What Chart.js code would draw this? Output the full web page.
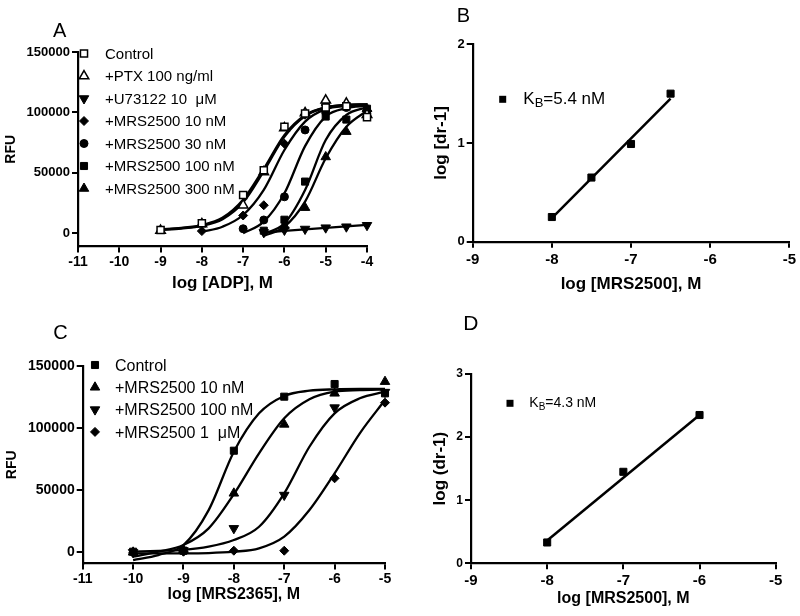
<!DOCTYPE html>
<html><head><meta charset="utf-8">
<script src="https://cdn.jsdelivr.net/npm/chart.js@4"></script>
<style>
body{margin:0;background:#fff;width:800px;height:616px;overflow:hidden;position:relative}
canvas{position:absolute;left:0;top:0}
</style></head><body>
<canvas id="cA" width="800" height="616"></canvas>
<canvas id="cB" width="800" height="616"></canvas>
<canvas id="cC" width="800" height="616"></canvas>
<canvas id="cD" width="800" height="616"></canvas>
<script>
const FONT = "'Liberation Sans', Arial, Helvetica, sans-serif";

// ================= Panel A data =================
const aTickX = [-11,-10,-9,-8,-7,-6,-5,-4];
const aTickXLabels = ['-11','-10','-9','-8','-7','-6','-5','-4'];
const aTickY = [0,50000,100000,150000];
const aTickYLabels = ['0','50000','100000','150000'];
const aNames = ['Control','+PTX 100 ng/ml','+U73122 10  \u03bcM','+MRS2500 10 nM','+MRS2500 30 nM','+MRS2500 100 nM','+MRS2500 300 nM'];

const aCtrlX = [-9,-8,-7,-6.5,-6,-5.5,-5,-4.5,-4];
const aCtrlY = [2500,8000,31500,52000,88000,99000,104000,105000,96000];
const aPtxX  = [-9,-8,-7,-6.5,-6,-5.5,-5,-4.5,-4];
const aPtxY  = [2000,7500,23000,50500,87000,99500,110000,107500,98000];
const aU7X   = [-6.5,-6,-5.5,-5,-4.5,-4];
const aU7Y   = [500,2500,3300,4400,5200,6400];
const a10X   = [-8,-7,-6.5,-6,-5.5,-5,-4.5,-4];
const a10Y   = [1600,14500,23000,74000,98000,106000,106500,101000];
const a30X   = [-7,-6.5,-6,-5.5,-5,-4.5,-4];
const a30Y   = [3500,10800,30000,85400,100000,104000,101000];
const a100X  = [-6.5,-6,-5.5,-5,-4.5,-4];
const a100Y  = [1900,11000,42600,96500,94000,103000];
const a300X  = [-6,-5.5,-5,-4.5,-4];
const a300Y  = [6000,21000,63000,84000,103000];

// fitted curves
const aCurveCtrlX = [-9,-8.5,-8,-7.5,-7,-6.5,-6,-5.5,-5,-4.5,-4];
const aCurveCtrlY = [3000,4200,6500,12500,27500,53000,81000,97500,104000,106000,106500];
const aCurvePtxX  = [-9,-8.5,-8,-7.5,-7,-6.5,-6,-5.5,-5,-4.5,-4];
const aCurvePtxY  = [2500,3800,6000,11500,25500,51500,80000,97000,104000,106000,106500];
const aCurveU7X   = [-6.5,-6,-5.5,-5,-4.5,-4];
const aCurveU7Y   = [300,1800,3000,4200,5400,6700];
const aCurve10X   = [-8,-7.5,-7,-6.5,-6,-5.5,-5,-4.5,-4];
const aCurve10Y   = [1000,5200,14900,35700,68800,92300,102600,105300,106100];
const aCurve30X   = [-7,-6.5,-6,-5.5,-5,-4.5,-4];
const aCurve30Y   = [-300,9400,32900,72000,96500,103400,105300];
const aCurve100X  = [-6.5,-6,-5.5,-5,-4.5,-4];
const aCurve100Y  = [-800,8000,35700,77100,97800,104200];
const aCurve300X  = [-6.5,-6,-5.5,-5,-4.5,-4];
const aCurve300Y  = [-2500,5200,26000,61900,88100,101400];

// ================= Panel B data =================
const bTickX = [-9,-8,-7,-6,-5];
const bTickXLabels = ['-9','-8','-7','-6','-5'];
const bTickY = [0,1,2];
const bTickYLabels = ['0','1','2'];
const bX = [-8,-7.5,-7,-6.5];
const bY = [0.25,0.65,0.99,1.50];
const bLineX = [-8,-6.5];
const bLineY = [0.24,1.45];

// ================= Panel C data =================
const cTickX = [-11,-10,-9,-8,-7,-6,-5];
const cTickXLabels = ['-11','-10','-9','-8','-7','-6','-5'];
const cTickY = [0,50000,100000,150000];
const cTickYLabels = ['0','50000','100000','150000'];
const cNames = ['Control','+MRS2500 10 nM','+MRS2500 100 nM','+MRS2500 1  \u03bcM'];
const cX = [-10,-9,-8,-7,-6,-5];
const cCtrlY = [500,1300,81800,125300,135500,128000];
const c10Y   = [0,2000,47500,103000,128000,137400];
const c100Y  = [0,1500,19300,46100,116500,129000];
const c1uY   = [-500,500,1300,1300,59600,120500];
const cCurveX = [-10,-9.5,-9,-8.5,-8,-7.5,-7,-6.5,-6,-5.5,-5];
const cCurveCtrlY = [-6200,-2200,5900,34000,81000,111900,125900,130100,131200,131500,131500];
const cCurve10Y   = [-3500,500,5900,19300,46800,79700,107900,123200,129300,130500,131200];
const cCurve100Y  = [500,1200,1900,4500,9900,20600,47500,85000,111900,124000,129300];
const cCurve1uY   = [-800,-800,-800,-600,500,3200,12600,34000,63600,95800,122600];

// ================= Panel D data =================
const dTickX = [-9,-8,-7,-6,-5];
const dTickXLabels = ['-9','-8','-7','-6','-5'];
const dTickY = [0,1,2,3];
const dTickYLabels = ['0','1','2','3'];
const dX = [-8,-7,-6];
const dY = [0.33,1.45,2.35];
const dLineX = [-8,-6];
const dLineY = [0.36,2.35];

// ================= helpers =================
const zip = (xs, ys) => xs.map((x,i) => ({x, y: ys[i]}));
const M = {
  ctrlA: {pointStyle:'rect', pointRadius:5, pointRotation:0, pointBackgroundColor:'#fff', pointBorderColor:'#000', pointBorderWidth:1.5},
  ptx:   {pointStyle:'triangle', pointRadius:5.5, pointRotation:0, pointBackgroundColor:'#fff', pointBorderColor:'#000', pointBorderWidth:1.5},
  inv:   {pointStyle:'triangle', pointRadius:5.5, pointRotation:180, pointBackgroundColor:'#000', pointBorderColor:'#000', pointBorderWidth:1},
  dia:   {pointStyle:'rectRot', pointRadius:4.5, pointRotation:0, pointBackgroundColor:'#000', pointBorderColor:'#000', pointBorderWidth:1},
  circ:  {pointStyle:'circle', pointRadius:4, pointRotation:0, pointBackgroundColor:'#000', pointBorderColor:'#000', pointBorderWidth:1},
  sq:    {pointStyle:'rect', pointRadius:5, pointRotation:0, pointBackgroundColor:'#000', pointBorderColor:'#000', pointBorderWidth:1},
  tri:   {pointStyle:'triangle', pointRadius:5.5, pointRotation:0, pointBackgroundColor:'#000', pointBorderColor:'#000', pointBorderWidth:1}
};
function pts(xs, ys, m) {
  return Object.assign({data: zip(xs, ys), showLine:false, clip:false}, m);
}
function curve(xs, ys, w) {
  return {data: zip(xs, ys), showLine:true, pointRadius:0, borderColor:'#000', borderWidth:w||2.3,
          cubicInterpolationMode:'monotone', clip:false, fill:false};
}

const overlay = {
  id: 'overlay',
  afterDraw(chart, args, opts) {
    const ctx = chart.ctx;
    ctx.save();
    ctx.fillStyle = '#000';
    ctx.textBaseline = 'alphabetic';
    ctx.textAlign = 'left';
    (opts.letters || []).forEach(t => {
      ctx.font = t.size + 'px ' + FONT;
      ctx.fillText(t.text, t.x, t.y);
    });
    (opts.legend || []).forEach(it => {
      const m = it.m;
      ctx.fillStyle = m.pointBackgroundColor;
      ctx.strokeStyle = m.pointBorderColor;
      ctx.lineWidth = m.pointBorderWidth;
      Chart.helpers.drawPoint(ctx, {pointStyle:m.pointStyle, radius:m.pointRadius, rotation:m.pointRotation, borderWidth:m.pointBorderWidth}, it.mx, it.y);
      ctx.fillStyle = '#000';
      ctx.font = it.size + 'px ' + FONT;
      ctx.fillText(it.text, it.tx, it.y + it.size*0.36);
    });
    (opts.kb || []).forEach(k => {
      ctx.fillStyle = '#000';
      ctx.fillRect(k.mx - 3.5, k.my - 3.5, 7, 7);
      let x = k.tx;
      ctx.font = k.size + 'px ' + FONT;
      ctx.fillText(k.main, x, k.base); x += ctx.measureText(k.main).width;
      ctx.font = k.sub + 'px ' + FONT;
      ctx.fillText(k.subText, x, k.base + k.subDrop); x += ctx.measureText(k.subText).width;
      ctx.font = k.size + 'px ' + FONT;
      ctx.fillText(k.rest, x, k.base);
    });
    ctx.restore();
  }
};

function panel(id, P) {
  const yLH = P.yTitleSize * 1.2, xLH = P.xTitleSize * 1.2;
  const yLeft = P.yTitleCX - yLH / 2;
  const xBottom = P.xTitleCY + xLH / 2;
  const yW = P.area.l - yLeft;
  const xH = xBottom - P.area.b;
  const xm = new Map(P.xTicks.map((v,i) => [v, P.xLabels[i]]));
  const ym = new Map(P.yTicks.map((v,i) => [v, P.yLabels[i]]));
  const grid = {display:true, drawOnChartArea:false, drawTicks:true, tickLength:6, color:'#000', lineWidth:2};
  const border = {display:true, color:'#000', width:2.2};
  new Chart(document.getElementById(id), {
    type: 'scatter',
    data: {datasets: P.datasets},
    options: {
      responsive:false, animation:false, events:[],
      layout: {padding: {left: yLeft, top: P.area.t, right: 800 - P.area.r, bottom: 616 - xBottom}},
      plugins: {legend:{display:false}, tooltip:{enabled:false}, overlay: P.overlay},
      scales: {
        x: {
          type:'linear', position:'bottom', min:P.xMin, max:P.xMax,
          afterBuildTicks: s => { s.ticks = P.xTicks.map(v => ({value:v})); },
          afterFit: s => { s.height = xH; },
          ticks: {callback: v => xm.get(v), autoSkip:false, maxRotation:0, color:'#000', padding:P.xTickPad,
                  font:{family:FONT, size:P.xTickSize, weight:'bold'}},
          grid, border,
          title: {display:true, text:P.xTitle, color:'#000', padding:0, font:{family:FONT, size:P.xTitleSize, weight:'bold'}}
        },
        y: {
          type:'linear', position:'left', min:P.yMin, max:P.yMax,
          afterBuildTicks: s => { s.ticks = P.yTicks.map(v => ({value:v})); },
          afterFit: s => { s.width = yW; },
          ticks: {callback: v => ym.get(v), autoSkip:false, color:'#000', padding:2,
                  font:{family:FONT, size:P.yTickSize, weight:'bold'}},
          grid, border,
          title: {display:true, text:P.yTitle, color:'#000', padding:0, font:{family:FONT, size:P.yTitleSize, weight:'bold'}}
        }
      }
    },
    plugins: [overlay]
  });
}

// ---------- Panel A ----------
const aMarks = [M.ctrlA, M.ptx, M.inv, M.dia, M.circ, M.sq, M.tri];
panel('cA', {
  area:{l:78, r:367, t:52, b:246.5},
  xMin:-11, xMax:-4, yMin:-11200, yMax:150000,
  xTicks:aTickX, xLabels:aTickXLabels, yTicks:aTickY, yLabels:aTickYLabels,
  xTickSize:14, yTickSize:13, xTickPad:1,
  xTitle:'log [ADP], M', xTitleSize:17, xTitleCY:283,
  yTitle:'RFU', yTitleSize:14, yTitleCX:11.3,
  datasets: [
    pts(aCtrlX, aCtrlY, M.ctrlA), pts(aPtxX, aPtxY, M.ptx), pts(aU7X, aU7Y, M.inv),
    pts(a10X, a10Y, M.dia), pts(a30X, a30Y, M.circ), pts(a100X, a100Y, M.sq), pts(a300X, a300Y, M.tri),
    curve(aCurveCtrlX, aCurveCtrlY, 2.6), curve(aCurvePtxX, aCurvePtxY, 2.6), curve(aCurveU7X, aCurveU7Y),
    curve(aCurve10X, aCurve10Y), curve(aCurve30X, aCurve30Y), curve(aCurve100X, aCurve100Y), curve(aCurve300X, aCurve300Y)
  ],
  overlay: {
    letters:[{text:'A', x:53, y:36.7, size:20}],
    legend: aNames.map((n,i) => ({text:n, m:aMarks[i], mx:84, tx:105, y:53.5 + i*22.5, size:15}))
  }
});

// ---------- Panel B ----------
panel('cB', {
  area:{l:472.7, r:789.3, t:44.3, b:241.7},
  xMin:-9, xMax:-5, yMin:0, yMax:2,
  xTicks:bTickX, xLabels:bTickXLabels, yTicks:bTickY, yLabels:bTickYLabels,
  xTickSize:15, yTickSize:13, xTickPad:3,
  xTitle:'log [MRS2500], M', xTitleSize:17, xTitleCY:284,
  yTitle:'log [dr-1]', yTitleSize:17, yTitleCX:441.7,
  datasets: [ pts(bX, bY, M.sq), curve(bLineX, bLineY, 2.5) ],
  overlay: {
    letters:[{text:'B', x:456.7, y:21.7, size:20}],
    kb:[{mx:502.7, my:99.3, tx:523.3, base:104.3, size:17, sub:13, subDrop:3, main:'K', subText:'B', rest:'=5.4 nM'}]
  }
});

// ---------- Panel C ----------
const cMarks = [M.sq, M.tri, M.inv, M.dia];
panel('cC', {
  area:{l:82.7, r:385, t:366, b:563.5},
  xMin:-11, xMax:-5, yMin:-9000, yMax:150000,
  xTicks:cTickX, xLabels:cTickXLabels, yTicks:cTickY, yLabels:cTickYLabels,
  xTickSize:14, yTickSize:14, xTickPad:1,
  xTitle:'log [MRS2365], M', xTitleSize:16, xTitleCY:595,
  yTitle:'RFU', yTitleSize:14, yTitleCX:12.5,
  datasets: [
    pts(cX, cCtrlY, M.sq), pts(cX, c10Y, M.tri), pts(cX, c100Y, M.inv), pts(cX, c1uY, M.dia),
    curve(cCurveX, cCurveCtrlY), curve(cCurveX, cCurve10Y), curve(cCurveX, cCurve100Y), curve(cCurveX, cCurve1uY)
  ],
  overlay: {
    letters:[{text:'C', x:53.3, y:339, size:20}],
    legend: cNames.map((n,i) => ({text:n, m:cMarks[i], mx:95, tx:115, y:365 + i*22.3, size:16}))
  }
});

// ---------- Panel D ----------
panel('cD', {
  area:{l:471, r:775.7, t:374, b:563.3},
  xMin:-9, xMax:-5, yMin:0, yMax:3,
  xTicks:dTickX, xLabels:dTickXLabels, yTicks:dTickY, yLabels:dTickYLabels,
  xTickSize:15, yTickSize:12, xTickPad:3,
  xTitle:'log [MRS2500], M', xTitleSize:16, xTitleCY:599,
  yTitle:'log (dr-1)', yTitleSize:17, yTitleCX:440,
  datasets: [ pts(dX, dY, M.sq), curve(dLineX, dLineY, 2.5) ],
  overlay: {
    letters:[{text:'D', x:463.3, y:330, size:21}],
    kb:[{mx:510, my:403.3, tx:529.3, base:407.3, size:14, sub:10, subDrop:3, main:'K', subText:'B', rest:'=4.3 nM'}]
  }
});
</script>
</body></html>
